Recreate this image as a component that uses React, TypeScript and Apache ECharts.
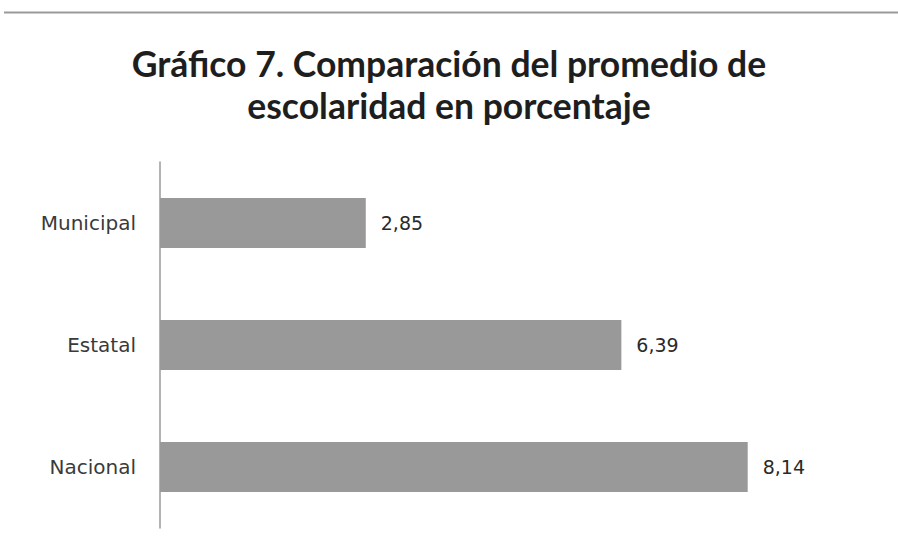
import React, { useEffect, useRef } from "react";
import * as echarts from "echarts";

const categories = ["Nacional", "Estatal", "Municipal"];
const values = [8.14, 6.39, 2.85];
const titleLines = ["Gráfico 7. Comparación del promedio de", "escolaridad en porcentaje"];

export default function App() {
  const ref = useRef<HTMLDivElement>(null);
  useEffect(() => {
    if (!ref.current) return;
    const chart = echarts.init(ref.current, null, { renderer: "svg" });
    chart.setOption({
      animation: false,
      backgroundColor: "#ffffff",
      title: {
        text: titleLines.join("\n"),
        left: "center",
        top: 37,
        textStyle: {
          fontFamily: "Lato",
          fontWeight: "bold",
          fontSize: 35.5,
          lineHeight: 42,
          color: "#1e1e1e",
        },
      },
      graphic: [
        {
          type: "line",
          shape: { x1: 4, y1: 12.5, x2: 898, y2: 12.5 },
          style: { stroke: "#9a9a9a", lineWidth: 2 },
        },
      ],
      grid: { left: 160, top: 162, width: 722, height: 366 },
      xAxis: {
        type: "value",
        min: 0,
        max: 10,
        show: false,
        splitLine: { show: false },
      },
      yAxis: {
        type: "category",
        data: categories,
        axisLine: { show: true, lineStyle: { color: "#9a9a9a", width: 1.5 } },
        axisTick: { show: false },
        axisLabel: {
          margin: 24,
          fontFamily: "DejaVu Sans",
          fontSize: 20,
          color: "#3a3a3a",
        },
      },
      series: [
        {
          type: "bar",
          data: values,
          barWidth: 50,
          itemStyle: { color: "#999999" },
          label: {
            show: true,
            position: "right",
            distance: 15,
            fontFamily: "DejaVu Sans",
            fontSize: 19,
            color: "#2a2a2a",
            formatter: (p: any) => p.value.toFixed(2).replace(".", ","),
          },
        },
      ],
    });
    return () => chart.dispose();
  }, []);
  return <div ref={ref} style={{ position: "fixed", left: 0, top: 0, width: 898, height: 544 }} />;
}
